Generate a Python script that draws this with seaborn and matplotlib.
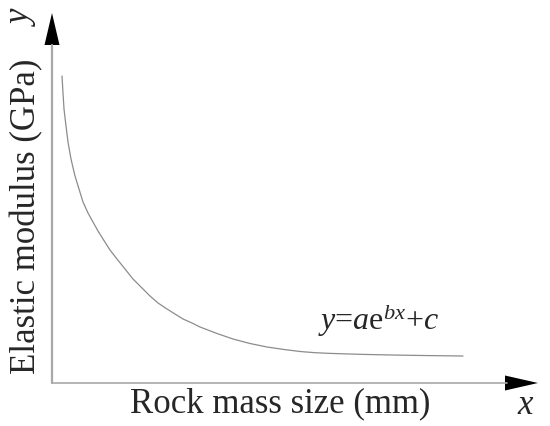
import matplotlib.pyplot as plt
import pandas as pd
import seaborn as sns

# curve (arbitrary units, origin at the axes corner)
size = [10, 11, 12, 14, 16, 19, 23, 27, 31, 36, 41, 46, 51, 58, 65, 73, 81, 90, 98,
        106, 115, 123, 131, 140, 148, 165, 181, 198, 215, 232, 248, 263, 278, 311, 345, 378, 411]
modulus = [307, 290, 274, 257, 241, 224, 207, 194, 181, 170, 161, 152, 144, 133, 124, 114, 104, 95, 87,
           80, 74, 69, 64, 60, 56, 49.5, 44, 39.5, 36, 33.5, 31.5, 30.3, 29.6, 28.6, 27.9, 27.4, 27]

x_label = "Rock mass size (mm)"
y_label = "Elastic modulus (GPa)"
equation = "$y$=$a$e$^{bx}$+$c$"

df = pd.DataFrame({"size": size, "modulus": modulus})

sns.set_style("white")
plt.rcParams["font.family"] = ["Liberation Serif", "DejaVu Serif"]
plt.rcParams["mathtext.fontset"] = "custom"
plt.rcParams["mathtext.rm"] = "Liberation Serif"
plt.rcParams["mathtext.it"] = "Liberation Serif:italic"

fig = plt.figure(figsize=(5.5, 4.27), dpi=100)
ax = fig.add_axes([52 / 550, 43 / 427, 486 / 550, 370 / 427])
ax.set_xlim(0, 486)
ax.set_ylim(0, 370)
ax.axis("off")

sns.lineplot(data=df, x="size", y="modulus", color="#8c8c8c", linewidth=0.9, ax=ax)

# axes with arrow heads
ax.plot([0, 455], [0, 0], color="#a8a8a8", lw=1.2, clip_on=False)
ax.plot([0, 0], [0, 338], color="#a8a8a8", lw=1.6, clip_on=False)
ax.fill([453, 486, 453], [-7.5, 0, 7.5], color="black", clip_on=False, lw=0)
ax.fill([-7.5, 0, 7.5], [338, 370, 338], color="black", clip_on=False, lw=0)

fig.text(280 / 550, 1 - 404 / 427, x_label, fontsize=25, ha="center", va="center")
fig.text(27 / 550, 1 - 216 / 427, y_label, fontsize=25, ha="center", va="center", rotation=90)
fig.text(379 / 550, 1 - 320 / 427, equation, fontsize=23, ha="center", va="center")
fig.text(525 / 550, 1 - 406 / 427, "x", fontsize=25, style="italic", ha="center", va="center")
fig.text(22 / 550, 1 - 18 / 427, "y", fontsize=25, style="italic", ha="center", va="center", rotation=90)

fig.savefig("out.png")
